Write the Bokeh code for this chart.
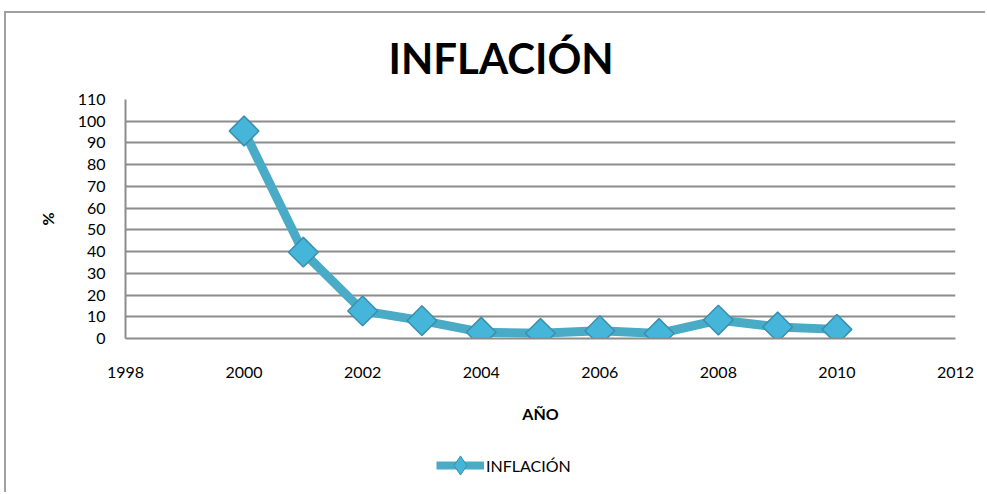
import math
from bokeh.plotting import figure
from bokeh.layouts import column
from bokeh.models import Legend, LegendItem, FixedTicker, Range1d
from bokeh.embed import file_html
from bokeh.resources import INLINE

years = [2000, 2001, 2002, 2003, 2004, 2005, 2006, 2007, 2008, 2009, 2010]
inflacion = [95.5, 39.7, 12.7, 8.2, 2.9, 2.4, 3.6, 2.3, 8.5, 5.3, 4.2]
x_ticks = [1998, 2000, 2002, 2004, 2006, 2008, 2010, 2012]
y_ticks = [0, 10, 20, 30, 40, 50, 60, 70, 80, 90, 100, 110]
title_text = "INFLACIÓN"
x_label = "AÑO"
y_label = "%"
series_name = "INFLACIÓN"

LINE_COLOR = "#4aabc6"
MARK_FILL = "#45b5d9"
MARK_EDGE = "#3a8fae"
BORDER = "#a0a0a0"

ML, MT, BW = 4, 11, 2
OX, OY = ML + BW, MT + BW
W = 987 - OX
SPLIT = 440                       # page y where the legend strip starts
H1 = SPLIT - OY
H2 = 494 - SPLIT
FL, FR, FT, FB = 125 - OX, 955 - OX, 96 - OY, 338 - OY

p = figure(width=W, height=H1, output_backend="svg", toolbar_location=None,
           x_range=Range1d(1998, 2012), y_range=Range1d(0, 110),
           min_border_left=FL, min_border_right=W - FR,
           min_border_top=FT, min_border_bottom=H1 - FB)
p.styles = {"margin-left": f"{ML}px", "margin-top": f"{MT}px",
            "border-left": f"{BW}px solid {BORDER}", "border-top": f"{BW}px solid {BORDER}"}
p.outline_line_color = None
p.background_fill_color = "white"
p.border_fill_color = "white"

p.title.text = title_text
p.title.align = "left"
p.title.offset = 388 - 125
p.title.standoff = 34
p.title.text_font = "Lato"
p.title.text_font_style = "bold"
p.title.text_font_size = "42px"
p.title.text_color = "black"

for ax in (p.xaxis[0], p.yaxis[0]):
    ax.major_tick_line_color = None
    ax.minor_tick_line_color = None
    ax.axis_line_color = "#8c8c8c"
    ax.axis_line_width = 2
    ax.major_label_text_font = "Lato"
    ax.major_label_text_font_size = "16px"
    ax.major_label_text_color = "#000000"
    ax.axis_label_text_font = "Lato"
    ax.axis_label_text_font_style = "bold"
    ax.axis_label_text_font_size = "16px"
    ax.axis_label_text_color = "#000000"
p.xaxis.ticker = FixedTicker(ticks=x_ticks)
p.yaxis.ticker = FixedTicker(ticks=y_ticks)
p.xaxis.major_label_standoff = 22
p.yaxis.major_label_standoff = 14
p.xaxis.axis_label = x_label
p.yaxis.axis_label = y_label
p.xaxis.axis_label_standoff = 23
p.yaxis.axis_label_standoff = 18
p.xgrid.grid_line_color = None
p.ygrid.grid_line_color = "#8c8c8c"
p.ygrid.grid_line_width = 2

p.line(years, inflacion, line_color=LINE_COLOR, line_width=9)
p.scatter(years, inflacion, marker="square", angle=math.pi / 4, size=21,
          fill_color=MARK_FILL, line_color=MARK_EDGE, line_width=1.5)

# legend strip (its own small figure, the series drawn off-range so only the key shows)
q = figure(width=W, height=H2, output_backend="svg", toolbar_location=None,
           x_range=Range1d(0, 1), y_range=Range1d(0, 1),
           min_border_left=0, min_border_right=0, min_border_top=0, min_border_bottom=0)
q.styles = {"margin-left": f"{ML}px", "border-left": f"{BW}px solid {BORDER}"}
q.axis.visible = False
q.grid.visible = False
q.outline_line_color = None
q.border_fill_color = "white"
lq = q.line(years, inflacion, line_color=LINE_COLOR, line_width=8)
sq = q.scatter(years, inflacion, marker="diamond", size=24,
               fill_color=MARK_FILL, line_color=MARK_EDGE, line_width=1)
GH = 50
legend = Legend(items=[LegendItem(label=series_name, renderers=[lq, sq])],
                location=(437 - OX - 120, (H2 - 27) - GH // 2), orientation="horizontal",
                glyph_width=48, glyph_height=GH, padding=0, margin=0, spacing=0,
                label_standoff=2, border_line_color=None, background_fill_alpha=0,
                label_text_font="Lato", label_text_font_size="16px",
                label_text_color="black")
q.add_layout(legend)

layout = column(p, q, spacing=0)
open("out.html", "w").write(file_html(layout, INLINE))
